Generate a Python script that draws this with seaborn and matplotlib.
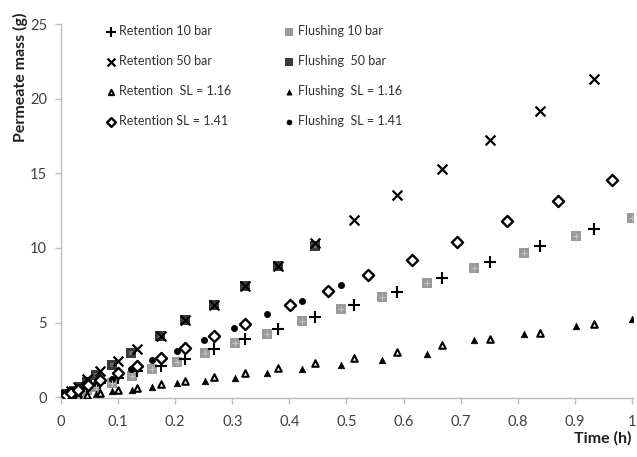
import matplotlib
matplotlib.use("Agg")
import matplotlib.pyplot as plt
import seaborn as sns
import numpy as np
import pandas as pd

# ---- data ----
t_ret = [0, 0.008, 0.017, 0.03, 0.045, 0.068, 0.1, 0.134, 0.175, 0.218, 0.268, 0.322,
         0.381, 0.445, 0.514, 0.588, 0.667, 0.752, 0.839, 0.934]
m_ret_10 = [0, 0.1, 0.25, 0.45, 0.7, 0.95, 1.32, 1.76, 2.1, 2.59, 3.21, 3.88,
            4.55, 5.37, 6.15, 7.04, 8.0, 9.05, 10.1, 11.28]
m_ret_50 = [0, 0.2, 0.4, 0.7, 1.2, 1.76, 2.43, 3.21, 4.1, 5.15, 6.2, 7.44,
            8.78, 10.3, 11.85, 13.52, 15.3, 17.2, 19.2, 21.3]
m_ret_116 = [0, 0.03, 0.06, 0.1, 0.18, 0.31, 0.49, 0.65, 0.87, 1.09, 1.38, 1.65,
             1.98, 2.32, 2.61, 3.05, 3.48, 3.88, 4.32, 4.88]
t_ret_141 = [0, 0.008, 0.017, 0.03, 0.047, 0.068, 0.1, 0.134, 0.175, 0.218, 0.268, 0.322,
             0.401, 0.467, 0.538, 0.614, 0.694, 0.782, 0.87, 0.966]
m_ret_141 = [0, 0.12, 0.28, 0.5, 0.8, 1.15, 1.6, 2.1, 2.65, 3.32, 4.1, 4.88,
             6.15, 7.1, 8.18, 9.22, 10.4, 11.78, 13.17, 14.57]

t_flu = [0, 0.006, 0.013, 0.022, 0.033, 0.045, 0.062, 0.09, 0.124, 0.16, 0.203, 0.252,
         0.304, 0.36, 0.423, 0.49, 0.563, 0.642, 0.723, 0.811, 0.903, 1.0]
m_flu_10 = [0, 0.05, 0.12, 0.22, 0.35, 0.5, 0.7, 0.98, 1.42, 1.92, 2.36, 2.99,
            3.61, 4.26, 5.1, 5.88, 6.73, 7.67, 8.67, 9.67, 10.83, 12.0]
m_flu_116 = [0, 0.02, 0.04, 0.07, 0.1, 0.15, 0.25, 0.42, 0.49, 0.72, 0.94, 1.09,
             1.32, 1.65, 1.87, 2.16, 2.49, 2.87, 3.81, 4.21, 4.77, 5.21]
t_flu_50 = [0, 0.006, 0.013, 0.022, 0.033, 0.045, 0.062, 0.09, 0.123, 0.173, 0.218,
            0.268, 0.322, 0.381, 0.445]
m_flu_50 = [0, 0.1, 0.25, 0.45, 0.7, 1.0, 1.49, 2.14, 2.99, 4.1, 5.15,
            6.2, 7.44, 8.78, 10.1]
t_flu_141 = [0, 0.006, 0.013, 0.022, 0.033, 0.045, 0.062, 0.089, 0.123, 0.159, 0.203,
             0.251, 0.303, 0.36, 0.423, 0.49]
m_flu_141 = [0, 0.08, 0.18, 0.32, 0.5, 0.7, 0.98, 1.25, 1.87, 2.47, 3.1,
             3.81, 4.66, 5.55, 6.48, 7.55]

labels = ["Retention 10 bar", "Retention 50 bar", "Retention  SL = 1.16", "Retention SL = 1.41",
          "Flushing 10 bar", "Flushing  50 bar", "Flushing  SL = 1.16", "Flushing  SL = 1.41"]
x_ticks = [0, 0.1, 0.2, 0.3, 0.4, 0.5, 0.6, 0.7, 0.8, 0.9, 1]
x_ticklabels = ["0", "0.1", "0.2", "0.3", "0.4", "0.5", "0.6", "0.7", "0.8", "0.9", "1"]
y_ticks = [0, 5, 10, 15, 20, 25]

# ---- style ----
sns.set_style("white")
plt.rcParams['font.family'] = ['Lato', 'DejaVu Sans']

fig = plt.figure(figsize=(6.37, 4.57), dpi=100)
ax = fig.add_axes([61 / 637, 1 - 398 / 457, (633 - 61) / 637, (398 - 24) / 457])

series = [
    (t_ret, m_ret_10, labels[0], dict(marker="+", s=85, color="black", linewidth=1.5)),
    (t_ret, m_ret_50, labels[1], dict(marker="x", s=50, color="black", linewidth=1.6)),
    (t_ret, m_ret_116, labels[2], dict(marker="^", s=22, facecolor="white", edgecolor="black", linewidth=1.5)),
    (t_ret_141, m_ret_141, labels[3], dict(marker="D", s=32, facecolor="white", edgecolor="black", linewidth=1.7)),
    (t_flu, m_flu_10, labels[4], dict(marker="s", s=55, color="#9a9a9a", edgecolor="#9a9a9a", linewidth=0)),
    (t_flu_50, m_flu_50, labels[5], dict(marker="s", s=55, color="#3a3a3a", edgecolor="#3a3a3a", linewidth=0)),
    (t_flu, m_flu_116, labels[6], dict(marker="^", s=22, color="black", edgecolor="black", linewidth=0.5)),
    (t_flu_141, m_flu_141, labels[7], dict(marker="o", s=20, color="black", edgecolor="black", linewidth=0.5)),
]

order = [4, 5, 6, 7, 0, 1, 2, 3]
for i in order:
    t, m, lab, kw = series[i]
    df = pd.DataFrame({"t": t, "m": m})
    sns.scatterplot(data=df, x="t", y="m", ax=ax, label=lab, zorder=3 if i < 4 else 2, **kw)
    if i == 4:
        # lighter pattern inside grey squares
        sns.scatterplot(data=df, x="t", y="m", ax=ax, marker="+", s=20, color="#c4c4c4",
                        linewidth=0.8, zorder=2.5, legend=False)
    if i == 5:
        sns.scatterplot(data=df, x="t", y="m", ax=ax, marker="s", s=5, color="#6a6a6a",
                        linewidth=0, zorder=2.5, legend=False)

ax.set_xlim(0, 1.002)
ax.set_ylim(-0.05, 25)
ax.set_xticks(x_ticks)
ax.set_xticklabels(x_ticklabels)
ax.set_yticks(y_ticks)
ax.set_xlabel("")
ax.set_ylabel("")
for sp in ["top", "right"]:
    ax.spines[sp].set_visible(False)
for sp in ["left", "bottom"]:
    ax.spines[sp].set_color("#bdbdbd")
    ax.spines[sp].set_linewidth(1.0)
ax.tick_params(axis="both", which="major", length=4, width=1.0, color="#bdbdbd",
               labelsize=10.5, labelcolor="#404040", direction="out", bottom=True, left=True)
ax.tick_params(axis="x", pad=8)
ax.tick_params(axis="y", pad=6)

# legend: rows Retention | Flushing
h, l = ax.get_legend_handles_labels()
lab2h = dict(zip(l, h))
leg = ax.legend([lab2h[x] for x in labels], labels, ncol=2, frameon=False,
                loc="upper left", bbox_to_anchor=(0.065, 1.011), fontsize=9,
                columnspacing=4.0, labelspacing=1.45, handletextpad=0.1,
                handlelength=1.2, borderaxespad=0, markerscale=0.8)
for txt in leg.get_texts():
    txt.set_color("#303030")

fig.text(20 / 637, 1 - 77 / 457, "Permeate mass (g)", rotation=90, ha="center", va="center",
         fontsize=11.5, fontweight="bold", color="#202020")
fig.text(603 / 637, 1 - 438 / 457, "Time (h)", ha="center", va="center",
         fontsize=11.5, fontweight="bold", color="#202020")

fig.savefig("out.png", dpi=100)
